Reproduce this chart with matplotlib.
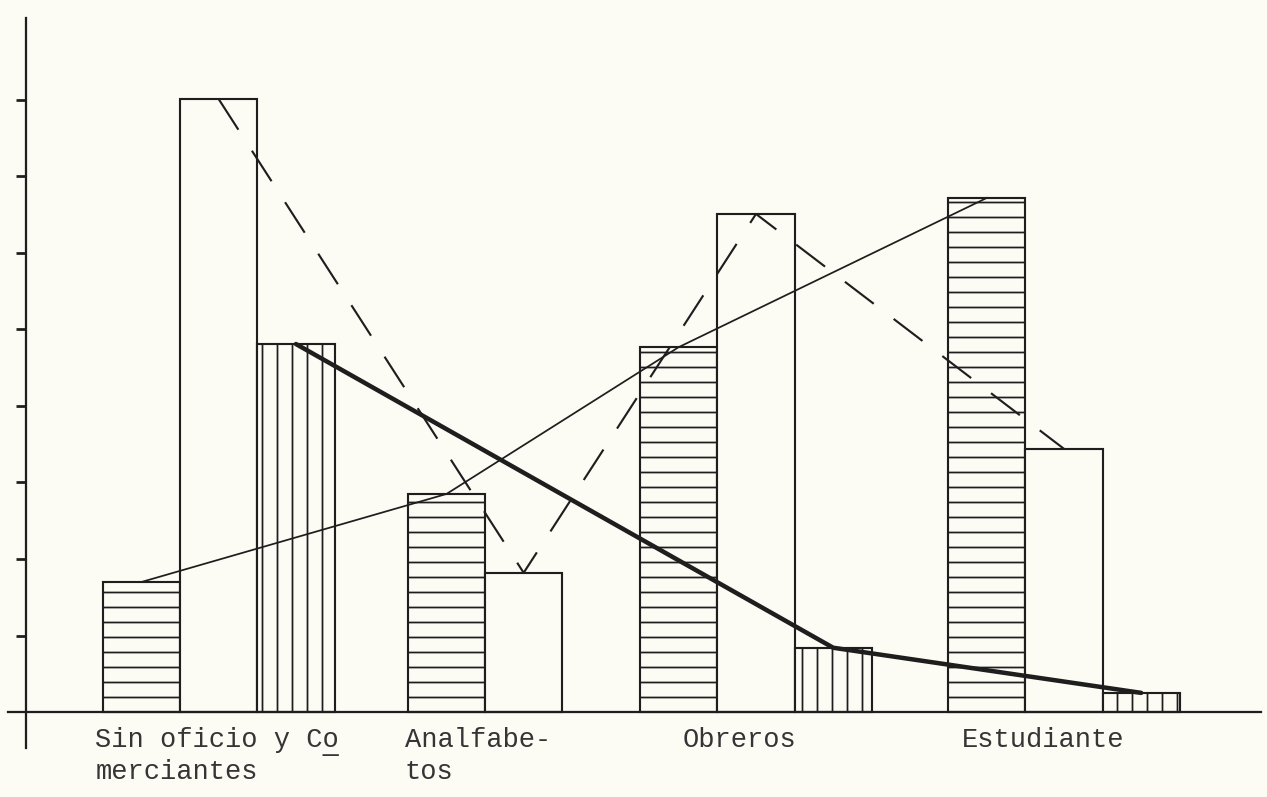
import matplotlib.pyplot as plt
import numpy as np

# Data (one unit = one tick on the y axis)
categories = ["Sin oficio y Comerciantes", "Analfabetos", "Obreros", "Estudiante"]
label_lines = [["Sin oficio y Co", "merciantes"], ["Analfabe-", "tos"], ["Obreros"], ["Estudiante"]]
serie_rayada_h = [1.70, 2.85, 4.77, 6.72]      # bars with horizontal hatch
serie_blanca = [8.01, 1.82, 6.51, 3.44]        # empty bars
serie_rayada_v = [4.81, None, 0.84, 0.25]      # bars with vertical hatch (none for Analfabetos)
yticks = [1, 2, 3, 4, 5, 6, 7, 8]

# layout: left edge of every group, in bar widths
group_start = np.array([0, 3.95, 6.96, 10.95])
label_dx = [-0.10, -0.04, 0.55, 0.18]

ink = "#1e1e1e"
paper = "#fcfbf4"
DPI = 90

plt.rcParams["hatch.linewidth"] = 1.4
plt.rcParams["hatch.color"] = ink
plt.rcParams["lines.scale_dashes"] = False

fig = plt.figure(figsize=(1267 / DPI, 797 / DPI), dpi=DPI, facecolor=paper)
ax = fig.add_axes([0, 0, 1, 1])
ax.set_facecolor(paper)

x_h = group_start + 0.5
x_w = group_start + 1.5
x_v = group_start + 2.5

ax.bar(x_h, serie_rayada_h, width=1, facecolor=paper, edgecolor=ink, hatch="-", linewidth=1.7, zorder=2)
ax.bar(x_w, serie_blanca, width=1, facecolor=paper, edgecolor=ink, linewidth=1.7, zorder=2)
v_ok = [i for i, v in enumerate(serie_rayada_v) if v is not None]
v_x = x_v[v_ok]
v_y = [serie_rayada_v[i] for i in v_ok]
ax.bar(v_x, v_y, width=1, facecolor=paper, edgecolor=ink, hatch="|", linewidth=1.7, zorder=2)

# lines joining the tops of each series
ax.plot(x_h, serie_rayada_h, color=ink, lw=1.4, zorder=3)
ax.plot(x_w, serie_blanca, color=ink, lw=1.7, dashes=(29, 20), zorder=3)
ax.plot(v_x, v_y, color=ink, lw=3.6, solid_capstyle="round", zorder=3)

# axes drawn like the hand-made original
for s in ["top", "right"]:
    ax.spines[s].set_visible(False)
ax.spines["left"].set_position(("data", -1))
ax.spines["left"].set_bounds(-0.47, 9.07)
ax.spines["bottom"].set_position(("data", 0))
ax.spines["bottom"].set_bounds(-1.23, 15.0)
for s in ["left", "bottom"]:
    ax.spines[s].set_color(ink)
    ax.spines[s].set_linewidth(1.8)

ax.set_yticks(yticks)
ax.set_yticklabels([])
ax.tick_params(axis="y", direction="out", length=8, width=2.2, color=ink)
ax.set_xticks([])

ax.set_xlim(-1.334, 15.08)
ax.set_ylim(-1.111, 9.307)

font = dict(family=["Liberation Mono", "DejaVu Sans Mono"], fontsize=21.7, color="#353535")
for gx, dx, lines in zip(group_start, label_dx, label_lines):
    for k, line in enumerate(lines):
        ax.text(gx + dx, -0.46 - 0.41 * k, line, ha="left", va="baseline", **font)
# underline under the last "o" of "Co" (hyphenation mark of the original)
ax.text(group_start[0] + label_dx[0], -0.53, " " * 14 + "_", ha="left", va="baseline", **font)

fig.savefig("out.png", dpi=DPI, facecolor=paper)
